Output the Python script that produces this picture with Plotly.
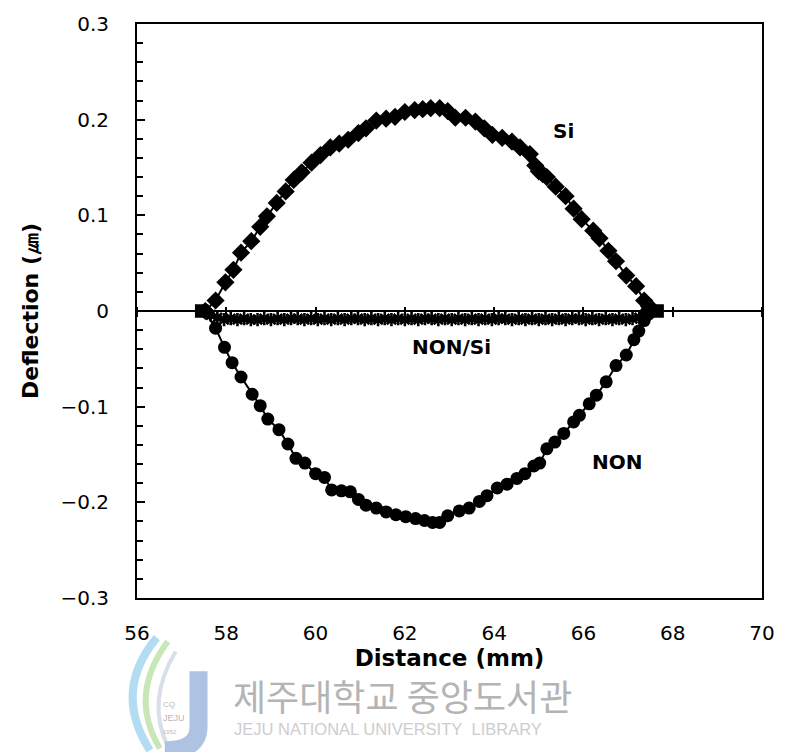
import plotly.graph_objects as go

# ---- measured deflection profiles (distance in mm, deflection in um) ----
si_x = [57.53, 57.76, 57.98, 58.16, 58.33, 58.56, 58.76, 58.91, 59.13, 59.33,
        59.51, 59.69, 59.91, 60.11, 60.33, 60.53, 60.73, 60.96, 61.13, 61.36,
        61.58, 61.78, 62.00, 62.22, 62.40, 62.58, 62.78, 62.96, 63.13, 63.36,
        63.58, 63.78, 63.96, 64.18, 64.40, 64.58, 64.80, 64.92, 65.00, 65.09,
        65.18, 65.38, 65.60, 65.78, 65.96, 66.22, 66.36, 66.56, 66.73, 66.96,
        67.18, 67.36, 67.47, 67.53]
si_y = [0.000, 0.011, 0.030, 0.043, 0.061, 0.073, 0.088, 0.099, 0.113, 0.125,
        0.137, 0.145, 0.155, 0.163, 0.171, 0.175, 0.179, 0.186, 0.191, 0.199,
        0.201, 0.203, 0.208, 0.210, 0.211, 0.212, 0.212, 0.209, 0.202, 0.202,
        0.198, 0.191, 0.184, 0.181, 0.177, 0.171, 0.164, 0.152, 0.146, 0.143,
        0.140, 0.130, 0.120, 0.107, 0.096, 0.084, 0.076, 0.063, 0.052, 0.037,
        0.026, 0.011, 0.005, 0.000]

non_x = [57.51, 57.76, 57.96, 58.13, 58.33, 58.58, 58.76, 58.93, 59.18, 59.38,
         59.56, 59.76, 60.00, 60.20, 60.36, 60.58, 60.78, 60.96, 61.13, 61.36,
         61.58, 61.80, 62.02, 62.24, 62.44, 62.62, 62.78, 62.96, 63.22, 63.44,
         63.67, 63.84, 64.07, 64.29, 64.51, 64.69, 64.89, 65.02, 65.18, 65.36,
         65.56, 65.78, 65.91, 66.13, 66.29, 66.51, 66.73, 66.96, 67.13, 67.24,
         67.36, 67.40]
non_y = [0.000, -0.018, -0.038, -0.054, -0.069, -0.087, -0.099, -0.113, -0.124, -0.139,
         -0.154, -0.159, -0.170, -0.174, -0.187, -0.188, -0.189, -0.197, -0.203, -0.206,
         -0.210, -0.213, -0.215, -0.217, -0.219, -0.221, -0.221, -0.214, -0.209, -0.206,
         -0.199, -0.193, -0.185, -0.181, -0.175, -0.170, -0.162, -0.159, -0.144, -0.137,
         -0.128, -0.116, -0.109, -0.097, -0.088, -0.074, -0.057, -0.046, -0.030, -0.021,
         -0.010, -0.002]

nonsi_x = [57.45,
           57.65, 57.80, 57.95, 58.10, 58.25, 58.40, 58.55, 58.70, 58.85, 59.00,
           59.15, 59.30, 59.45, 59.60, 59.75, 59.90, 60.05, 60.20, 60.35, 60.50,
           60.65, 60.80, 60.95, 61.10, 61.25, 61.40, 61.55, 61.70, 61.85, 62.00,
           62.15, 62.30, 62.45, 62.60, 62.75, 62.90, 63.05, 63.20, 63.35, 63.50,
           63.65, 63.80, 63.95, 64.10, 64.25, 64.40, 64.55, 64.70, 64.85, 65.00,
           65.15, 65.30, 65.45, 65.60, 65.75, 65.90, 66.05, 66.20, 66.35, 66.50,
           66.65, 66.80, 66.95, 67.10, 67.25, 67.40,
           67.65]
nonsi_y = [0.000,
           -0.004, -0.007, -0.009, -0.008, -0.009, -0.008, -0.009, -0.009, -0.008, -0.009,
           -0.008, -0.009, -0.008, -0.008, -0.009, -0.008, -0.009, -0.008, -0.009, -0.008,
           -0.009, -0.008, -0.008, -0.009, -0.008, -0.009, -0.008, -0.009, -0.008, -0.009,
           -0.008, -0.009, -0.008, -0.008, -0.009, -0.008, -0.009, -0.008, -0.009, -0.008,
           -0.009, -0.008, -0.009, -0.008, -0.008, -0.009, -0.008, -0.009, -0.008, -0.009,
           -0.008, -0.009, -0.008, -0.009, -0.008, -0.008, -0.009, -0.008, -0.009, -0.008,
           -0.009, -0.008, -0.009, -0.008, -0.007, -0.005,
           0.000]

x_ticks = [56, 58, 60, 62, 64, 66, 68, 70]
x_range = [56, 70]
y_range = [-0.3, 0.3]

series_labels = [("Si", 65.56, 0.188), ("NON/Si", 63.04, -0.038), ("NON", 66.76, -0.158)]

# ---- page geometry (pixels) ----
W_PX, H_PX = 787, 752
L, R, T, B = 137, 20, 18, 154
PW, PH = W_PX - L - R, H_PX - T - B


def paper(xp, yp):
    """Convert page pixels to paper coordinates of the plotting area."""
    return (xp - L) / PW, 1 - (yp - T) / PH


FONT = "DejaVu Sans, Liberation Sans, Arial, sans-serif"

fig = go.Figure()

fig.add_trace(go.Scatter(
    x=si_x, y=si_y, mode="lines+markers", name="Si",
    line=dict(color="black", width=2),
    marker=dict(symbol="diamond", size=14, color="black", opacity=1),
))
fig.add_trace(go.Scatter(
    x=non_x, y=non_y, mode="lines+markers", name="NON",
    line=dict(color="black", width=2),
    marker=dict(symbol="circle", size=13, color="black", opacity=1),
))
nonsi_sym = ["square"] + ["asterisk-open"] * (len(nonsi_x) - 2) + ["square"]
nonsi_size = [11] + [11] * (len(nonsi_x) - 2) + [11]
fig.add_trace(go.Scatter(
    x=nonsi_x, y=nonsi_y, mode="lines+markers", name="NON/Si",
    line=dict(color="black", width=4),
    marker=dict(symbol=nonsi_sym, size=nonsi_size, color="black", opacity=1,
                line=dict(color="black", width=2.6)),
))
# carrier for the tick marks drawn across the zero line
fig.add_trace(go.Scatter(
    x=nonsi_x, y=nonsi_y, mode="none", xaxis="x2",
    hoverinfo="skip", showlegend=False,
))

for text, lx, ly in series_labels:
    fig.add_annotation(x=lx, y=ly, text=f"<b>{text}</b>", showarrow=False,
                       font=dict(family=FONT, size=20, color="black"))

# frame and axes
fig.update_layout(
    width=W_PX, height=H_PX,
    margin=dict(l=L, r=R, t=T, b=B),
    paper_bgcolor="white", plot_bgcolor="white",
    showlegend=False,
    font=dict(family=FONT, color="black"),
    xaxis=dict(
        range=x_range, tickvals=x_ticks, ticks="",
        showline=True, linecolor="black", linewidth=2, mirror=True,
        showgrid=False, zeroline=False,
        ticklabelstandoff=16,
        tickfont=dict(size=20, color="black"),
        title=dict(text="<b>Distance (mm)</b>", standoff=3,
                   font=dict(size=23, color="black")),
    ),
    xaxis2=dict(
        matches="x", overlaying="x", anchor="free",
        position=0.5 + 5 / PH,
        tickvals=x_ticks, ticks="outside", ticklen=10, tickwidth=2,
        tickcolor="black", showticklabels=False,
        showline=False, showgrid=False, zeroline=False,
    ),
    yaxis=dict(
        range=y_range, dtick=0.1, ticks="inside", ticklen=8, tickwidth=2,
        tickcolor="black",
        minor=dict(dtick=0.02, ticks="inside", ticklen=6, tickwidth=1.5,
                   tickcolor="black", showgrid=False),
        showline=True, linecolor="black", linewidth=2, mirror=True,
        showgrid=False,
        zeroline=True, zerolinecolor="black", zerolinewidth=2,
        ticklabelstandoff=22,
        tickfont=dict(size=20, color="black"),
        title=dict(text="<b>Deflection (㎛)</b>", standoff=16,
                   font=dict(size=22, color="black")),
    ),
)

# library watermark below the chart
kx, ky = paper(232, 696)
fig.add_annotation(xref="paper", yref="paper", x=kx, y=ky, xanchor="left",
                   yanchor="middle", showarrow=False, text="제주대학교 중앙도서관",
                   font=dict(family="Noto Sans CJK KR", size=36, color="#b4b4b4"))
ex, ey = paper(233, 730)
fig.add_annotation(xref="paper", yref="paper", x=ex, y=ey, xanchor="left",
                   yanchor="middle", showarrow=False,
                   text="JEJU NATIONAL UNIVERSITY\u00a0\u00a0LIBRARY",
                   font=dict(family="Liberation Sans, Arial", size=16.5, color="#cdcdcd"))


def curve(points, color, width):
    (x0, y0), (cx, cy), (x1, y1) = [paper(*p) for p in points]
    fig.add_shape(type="path", xref="paper", yref="paper",
                  path=f"M {x0} {y0} Q {cx} {cy} {x1} {y1}",
                  line=dict(color=color, width=width), layer="below")


curve([(157, 638), (112, 692), (150, 752)], "#b3dcf3", 8)
curve([(168, 642), (128, 696), (160, 750)], "#c8e6b6", 6)
curve([(176, 652), (146, 702), (168, 748)], "#d8dfe9", 4)
jx0, jy0 = paper(199, 672)
jx1, jy1 = paper(199, 728)
jcx, jcy = paper(199, 752)
jx2, jy2 = paper(165, 752)
fig.add_shape(type="path", xref="paper", yref="paper",
              path=f"M {jx0} {jy0} L {jx1} {jy1} Q {jcx} {jcy} {jx2} {jy2}",
              line=dict(color="#aec3e2", width=18), layer="below")
for txt, yy, sz in [("CQ", 712, 8), ("JEJU", 726, 9), ("1952", 738, 6)]:
    tx, ty = paper(161, yy)
    fig.add_annotation(xref="paper", yref="paper", x=tx, y=ty, showarrow=False,
                       text=txt, font=dict(family="Liberation Sans", size=sz,
                                           color="#b8b8b8"))

fig.write_html("out.html")
